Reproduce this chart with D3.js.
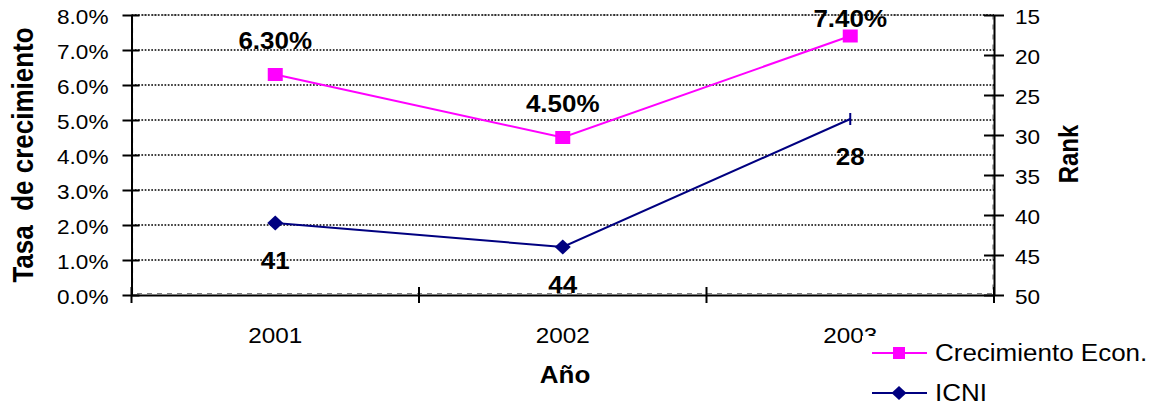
<!DOCTYPE html>
<html>
<head>
<meta charset="utf-8">
<script src="https://cdn.jsdelivr.net/npm/d3@7"></script>
<style>
  html, body { margin: 0; padding: 0; background: #fff; }
  svg { display: block; font-family: "Liberation Sans", Arial, sans-serif; }
</style>
</head>
<body>
<svg id="chart" width="1153" height="406"></svg>
<script>
// Series data
const years = ["2001", "2002", "2003"];
const growth = [0.063, 0.045, 0.074];      // Crecimiento Econ. (left axis)
const icniRank = [41, 44, 28];             // ICNI rank (right axis, inverted)
const seriesNames = ["Crecimiento Econ.", "ICNI"];

// Axis ticks
const pctTicks = [0, 0.01, 0.02, 0.03, 0.04, 0.05, 0.06, 0.07, 0.08];
const rankTicks = [15, 20, 25, 30, 35, 40, 45, 50];

// Titles
const yTitleLeft = "Tasa  de crecimiento";
const yTitleRight = "Rank";
const xTitle = "Año";

// Layout
const W = 1153, H = 406;
const plot = { left: 131.5, right: 994, top: 15, bottom: 295 };
const TSX = 1.13;           // horizontal text stretch
const PINK = "#FF00FF", NAVY = "#000080";

const svg = d3.select("#chart");

const x = d3.scaleBand().domain(years).range([plot.left, plot.right]);
const cx = d => x(d) + x.bandwidth() / 2;
const yL = d3.scaleLinear().domain([0, 0.08]).range([plot.bottom, plot.top]);
const yR = d3.scaleLinear().domain([15, 50]).range([plot.top, plot.bottom]);

function stretchText(sel, px, py, rot) {
  sel.attr("x", null).attr("y", null)
     .attr("transform", `translate(${px},${py}) scale(${TSX},1)` + (rot ? ` rotate(${rot})` : ""));
}

// Plot area border (grey dashed)
svg.append("rect")
  .attr("x", plot.left + 1).attr("y", plot.top)
  .attr("width", plot.right - plot.left - 2).attr("height", plot.bottom - plot.top - 1.5)
  .attr("fill", "none").attr("stroke", "#808080").attr("stroke-width", 1.2)
  .attr("stroke-dasharray", "5,5");

// Horizontal dotted gridlines
svg.append("g").selectAll("line")
  .data(pctTicks.filter(t => t > 0))
  .join("line")
  .attr("x1", plot.left).attr("x2", plot.right)
  .attr("y1", d => yL(d)).attr("y2", d => yL(d))
  .attr("stroke", "#000").attr("stroke-width", 1.3)
  .attr("stroke-dasharray", "1.7,1.6");

// Left axis
const gL = svg.append("g").attr("transform", `translate(${plot.left},0)`)
  .call(d3.axisLeft(yL).tickValues(pctTicks).tickFormat(d3.format(".1%"))
        .tickSizeInner(9).tickSizeOuter(0).tickPadding(0));
gL.select(".domain").attr("stroke", "#000").attr("stroke-width", 2);
gL.selectAll(".tick line").attr("x1", -9).attr("x2", 8).attr("stroke", "#000").attr("stroke-width", 2);
gL.selectAll(".tick text").each(function() {
  const t = d3.select(this);
  t.attr("dy", null).attr("font-size", 20).attr("fill", "#000")
   .attr("font-family", "'Liberation Sans', Arial, sans-serif")
   .attr("text-anchor", "end");
  stretchText(t, -23, 8);
});

// Right axis
const gR = svg.append("g").attr("transform", `translate(${plot.right},0)`)
  .call(d3.axisRight(yR).tickValues(rankTicks)
        .tickSizeInner(10).tickSizeOuter(0).tickPadding(0));
gR.select(".domain").attr("stroke", "#000").attr("stroke-width", 2);
gR.selectAll(".tick line").attr("x1", -10).attr("x2", 10).attr("stroke", "#000").attr("stroke-width", 2);
gR.selectAll(".tick text").each(function() {
  const t = d3.select(this);
  t.attr("dy", null).attr("font-size", 20).attr("fill", "#000")
   .attr("font-family", "'Liberation Sans', Arial, sans-serif")
   .attr("text-anchor", "start");
  stretchText(t, 21, 8);
});

// Bottom axis
const gB = svg.append("g").attr("transform", `translate(0,${plot.bottom})`)
  .call(d3.axisBottom(x).tickSize(0).tickSizeOuter(0).tickPadding(0));
gB.select(".domain").attr("stroke", "#000").attr("stroke-width", 2);
gB.selectAll(".tick line").remove();
gB.selectAll(".tick text").each(function() {
  const t = d3.select(this);
  t.attr("dy", null).attr("font-size", 21.5).attr("fill", "#000")
   .attr("font-family", "'Liberation Sans', Arial, sans-serif")
   .attr("text-anchor", "middle");
  stretchText(t, 0, 48);
});
// Category boundary ticks crossing the axis
const bounds = years.map(d => x(d)).concat([plot.right]);
gB.append("g").selectAll("line").data(bounds).join("line")
  .attr("x1", d => d).attr("x2", d => d)
  .attr("y1", -8).attr("y2", 8)
  .attr("stroke", "#000").attr("stroke-width", 2);

// Lines
const lineG = d3.line().x((d, i) => cx(years[i])).y(d => yL(d));
const lineR = d3.line().x((d, i) => cx(years[i])).y(d => yR(d));

svg.append("path").datum(growth).attr("d", lineG)
  .attr("fill", "none").attr("stroke", PINK).attr("stroke-width", 2);
svg.append("path").datum(icniRank).attr("d", lineR)
  .attr("fill", "none").attr("stroke", NAVY).attr("stroke-width", 2);

// Markers: squares for growth
svg.append("g").selectAll("rect").data(growth).join("rect")
  .attr("x", (d, i) => cx(years[i]) - 7.5).attr("y", d => yL(d) - 6.5)
  .attr("width", 15).attr("height", 13).attr("fill", PINK);

// Markers: diamonds for ICNI, the last point shown as a short dash
const diamond = (px, py, w, h) => `M${px},${py - h}L${px + w},${py}L${px},${py + h}L${px - w},${py}Z`;
svg.append("g").selectAll("path").data(icniRank).join("path")
  .attr("d", (d, i) => i < icniRank.length - 1
        ? diamond(cx(years[i]), yR(d), 8, 7.5)
        : `M${cx(years[i])},${yR(d) - 6}L${cx(years[i])},${yR(d) + 6}`)
  .attr("fill", NAVY).attr("stroke", NAVY)
  .attr("stroke-width", (d, i) => i < icniRank.length - 1 ? 0 : 2);

// Data labels
const fmtPct = d3.format(".2%");
svg.append("g").selectAll("text").data(growth).join("text")
  .text(d => fmtPct(d))
  .attr("font-size", 23).attr("font-weight", "bold").attr("text-anchor", "middle")
  .each(function(d, i) {
    stretchText(d3.select(this), cx(years[i]), Math.max(yL(d) - 26, plot.top + 12));
  });
svg.append("g").selectAll("text").data(icniRank).join("text")
  .text(d => d)
  .attr("font-size", 23).attr("font-weight", "bold").attr("text-anchor", "middle")
  .each(function(d, i) {
    stretchText(d3.select(this), cx(years[i]), yR(d) + 45.5);
  });

// Axis titles
svg.append("text").text(yTitleLeft)
  .style("white-space", "pre")
  .attr("font-size", 26).attr("font-weight", "bold").attr("text-anchor", "middle")
  .call(s => stretchText(s, 33, 155, -90));
svg.append("text").text(yTitleRight)
  .attr("font-size", 24).attr("font-weight", "bold").attr("text-anchor", "middle")
  .call(s => stretchText(s, 1078, 154, -90));
svg.append("text").text(xTitle)
  .attr("font-size", 23).attr("font-weight", "bold").attr("text-anchor", "middle")
  .call(s => stretchText(s, 565, 383));

// Legend (white box overlapping the last category label)
const lg = svg.append("g").attr("transform", "translate(862,336)");
lg.append("rect").attr("width", W - 862).attr("height", H - 336).attr("fill", "#fff");
const entries = [
  { name: seriesNames[0], color: PINK, shape: "square" },
  { name: seriesNames[1], color: NAVY, shape: "diamond" }
];
const li = lg.selectAll("g.item").data(entries).join("g").attr("class", "item")
  .attr("transform", (d, i) => `translate(0,${17 + i * 40})`);
li.append("line").attr("x1", 10).attr("x2", 65).attr("stroke", d => d.color).attr("stroke-width", 2);
li.append("path").attr("fill", d => d.color)
  .attr("d", d => d.shape === "square"
        ? "M31,-6H43V6H31Z"
        : diamond(37, 0, 7.5, 7));
li.append("text").text(d => d.name)
  .attr("font-size", 23).attr("fill", "#000")
  .each(function() { stretchText(d3.select(this), 73, 8); });
</script>
</body>
</html>
